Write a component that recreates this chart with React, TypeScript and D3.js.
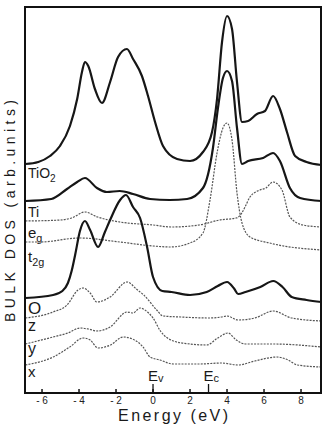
import React, { useEffect, useRef } from "react";
import { select, scaleLinear, line, curveMonotoneX } from "d3";

// axis
const energyTicks = [-6, -4, -2, 0, 2, 4, 6, 8];
const bandEdges = [
  { name: "E", sub: "v", energy: 0 },
  { name: "E", sub: "c", energy: 3.0 },
];

// total DOS
const tio2Energy = [-6.9, -6.2, -5.57, -5.03, -4.49, -4.1, -3.84, -3.68, -3.5, -3.14, -2.76, -2.32, -1.89, -1.41, -1.08, -0.6, -0.27, 0.11, 0.54, 1.3, 2.0, 2.7, 3.19, 3.46, 3.73, 4.0, 4.27, 4.54, 4.81, 5.14, 5.62, 6.05, 6.49, 6.86, 7.24, 7.68, 8.3, 9.1];
const tio2Dos = [0, 1, 4, 9, 19, 32.5, 46, 51, 49, 37.5, 30.5, 41, 53.5, 57.5, 52.5, 44, 34, 21, 9, 2.5, 1.5, 6, 16, 32.5, 61, 74, 67.5, 41, 21, 21.5, 25, 26.5, 34, 27.5, 16, 4, 1, -0.5];

// Ti and its eg / t2g parts
const tiEnergy = [-6.9, -5.5, -4.65, -4.1, -3.68, -3.03, -2.5, -1.8, -1.08, -0.16, 0.9, 1.84, 2.7, 3.24, 3.51, 3.78, 4.0, 4.27, 4.54, 4.81, 5.14, 5.95, 6.49, 6.86, 7.4, 7.95, 9.1];
const tiDos = [0, 1, 6, 9.5, 11.5, 6.5, 4.5, 5, 3.5, 1, 0.5, 1, 6.5, 26.5, 46.5, 61.5, 65, 60, 36.5, 18.5, 20, 21.5, 24, 20, 6.5, 1.5, 0];

const egEnergy = [-6.9, -5.0, -4.4, -3.68, -3.0, -1.8, 0, 1.0, 2.5, 3.6, 4.5, 4.8, 5.0, 5.24, 5.78, 6.1, 6.49, 6.97, 7.4, 8.1, 9.1];
const egDos = [1, 1.5, 2.5, 5.5, 3, 0.5, -1, -2, -1, 1.5, 2.5, 5, 8.5, 13, 16.5, 17.5, 20.5, 16.5, 3, -1, -2];

const t2gEnergy = [-6.9, -6.1, -3.95, -1.8, 0, 0.92, 2.0, 2.7, 3.08, 3.46, 3.78, 4.0, 4.27, 4.54, 4.81, 5.24, 6.3, 9.1];
const t2gDos = [1.5, 1.5, 3.5, 1.5, -0.5, -1, 1, 6, 22.5, 46, 58.5, 61, 52.5, 26, 11, 4, 1, -2.5];

// O and its x / y / z parts
const oEnergy = [-6.9, -5.4, -4.9, -4.6, -4.4, -4.2, -3.95, -3.68, -3.4, -2.97, -2.6, -2.32, -1.78, -1.46, -1.08, -0.7, -0.32, 0, 0.5, 1.0, 2.0, 2.9, 3.5, 4.0, 4.4, 4.6, 5.0, 5.8, 6.5, 7.0, 7.5, 8.3, 9.1];
const oDos = [-0.5, 1, 3, 7, 13, 21.5, 33, 38, 33.5, 25, 32.5, 38.5, 48.5, 51, 45, 39.5, 25, 10, 3, 2.5, 1, 2.5, 5.5, 7.5, 4, 1.5, 2.5, 5, 8, 5, 0, -1.5, -2.5];

const zEnergy = [-6.9, -5.4, -4.65, -4.05, -3.78, -3.4, -3.03, -2.32, -1.4, -0.9, -0.5, 0.2, 0.54, 1.5, 3.0, 3.7, 4.0, 4.6, 5.5, 6.5, 7.5, 9.1];
const zDos = [0.5, 3.5, 7, 14.5, 15.5, 13, 8.5, 11, 18.5, 15, 12, 4.5, 1.5, 1, 0.5, 1, 1.5, -0.5, 0.5, 4, 0.5, -1];

const yEnergy = [-6.9, -5.4, -4.6, -3.95, -3.5, -3.03, -2.32, -1.4, -1.08, -0.7, -0.3, 0, 0.4, 1.1, 2.0, 2.9, 3.5, 4.05, 4.5, 5.0, 6.5, 9.1];
const yDos = [0.5, 4, 6, 8.5, 8, 7, 9, 16.5, 16, 18.5, 16.5, 13.5, 7, 2, 0.5, 0, 3.5, 6, 2.5, 0.5, 0.5, -1];

const xEnergy = [-6.9, -5.4, -4.5, -3.78, -3.4, -2.97, -2.3, -1.62, -1.0, -0.54, -0.16, 0.38, 1.1, 2.5, 3.7, 4.6, 5.5, 6.7, 7.3, 7.8, 9.1];
const xDos = [0, 4, 9, 13.5, 12.5, 8.5, 10, 14, 12.5, 9, 4, 2.5, 0.5, 0.5, 1, 0, 2, 4, 2.5, 0, -1];

const series = [
  { label: "TiO", sub: "2", offset: 114.5, energy: tio2Energy, dos: tio2Dos, thick: true, dy: 14, size: 14 },
  { label: "Ti", sub: "", offset: 96, energy: tiEnergy, dos: tiDos, thick: true, dy: 16, size: 14 },
  { label: "e", sub: "g", offset: 85, energy: egEnergy, dos: egDos, thick: false, dy: 15, size: 15 },
  { label: "t", sub: "2g", offset: 74, energy: t2gEnergy, dos: t2gDos, thick: false, dy: 17, size: 15 },
  { label: "O", sub: "", offset: 48, energy: oEnergy, dos: oDos, thick: true, dy: 17, size: 17 },
  { label: "z", sub: "", offset: 37, energy: zEnergy, dos: zDos, thick: false, dy: 12, size: 16 },
  { label: "y", sub: "", offset: 24, energy: yEnergy, dos: yDos, thick: false, dy: 9, size: 16 },
  { label: "x", sub: "", offset: 14, energy: xEnergy, dos: xDos, thick: false, dy: 12, size: 15 },
];

const W = 327;
const H = 428;
const left = 25, right = 321, top = 7, bottom = 393;
const FONT = "'Liberation Sans', Arial, sans-serif";

function DosChart() {
  const svgRef = useRef(null);

  useEffect(() => {
    const svg = select(svgRef.current);
    svg.selectAll("*").remove();

    const xScale = scaleLinear().domain([-6.92, 9.08]).range([left, right]);
    const yScale = scaleLinear().domain([0, 193]).range([bottom, top]);

    // curves
    series.forEach((s) => {
      const pts = s.energy.map((e, i) => [e, s.offset + s.dos[i]]);
      const gen = line()
        .x((d) => xScale(d[0]))
        .y((d) => yScale(d[1]))
        .curve(curveMonotoneX);
      svg
        .append("path")
        .attr("d", gen(pts))
        .attr("fill", "none")
        .attr("stroke", s.thick ? "#161616" : "#555")
        .attr("stroke-width", s.thick ? 2.2 : 1.2)
        .attr("stroke-dasharray", s.thick ? null : "2 1.2")
        .attr("stroke-linejoin", "round");

      const t = svg
        .append("text")
        .attr("x", left + 3)
        .attr("y", yScale(s.offset) + s.dy)
        .attr("font-family", FONT)
        .attr("font-size", s.size)
        .attr("fill", "#1a1a1a")
        .text(s.label);
      if (s.sub) {
        t.append("tspan")
          .attr("dy", 4)
          .attr("font-size", s.size * 0.72)
          .text(s.sub);
      }
    });

    // frame
    svg
      .append("rect")
      .attr("x", left)
      .attr("y", top)
      .attr("width", right - left)
      .attr("height", bottom - top)
      .attr("fill", "none")
      .attr("stroke", "#111")
      .attr("stroke-width", 2);

    // x ticks (inward)
    const ticks = svg.append("g");
    ticks
      .selectAll("line")
      .data(energyTicks)
      .join("line")
      .attr("x1", (d) => xScale(d))
      .attr("x2", (d) => xScale(d))
      .attr("y1", bottom)
      .attr("y2", bottom - 4)
      .attr("stroke", "#111")
      .attr("stroke-width", 1.5);
    ticks
      .selectAll("text")
      .data(energyTicks)
      .join("text")
      .attr("x", (d) => xScale(d))
      .attr("y", bottom + 11)
      .attr("text-anchor", "middle")
      .attr("font-family", FONT)
      .attr("font-size", 10)
      .attr("fill", "#222")
      .text((d) => (d < 0 ? "- " + Math.abs(d) : String(d)));

    // band edges
    bandEdges.forEach((b) => {
      svg
        .append("line")
        .attr("x1", xScale(b.energy))
        .attr("x2", xScale(b.energy))
        .attr("y1", bottom)
        .attr("y2", bottom - 9)
        .attr("stroke", "#111")
        .attr("stroke-width", 1.3);
      const t = svg
        .append("text")
        .attr("x", xScale(b.energy) - 5)
        .attr("y", bottom - 12)
        .attr("font-family", FONT)
        .attr("font-size", 15)
        .attr("fill", "#1a1a1a")
        .text(b.name);
      t.append("tspan").attr("dy", 1).attr("font-size", 11).text(b.sub);
    });

    // axis titles
    svg
      .append("text")
      .attr("x", 173)
      .attr("y", 421)
      .attr("text-anchor", "middle")
      .attr("font-family", FONT)
      .attr("font-size", 16)
      .attr("textLength", 110)
      .attr("lengthAdjust", "spacing")
      .attr("fill", "#1a1a1a")
      .text("Energy (eV)");

    svg
      .append("text")
      .attr("transform", "translate(15,211) rotate(-90)")
      .attr("text-anchor", "middle")
      .attr("font-family", FONT)
      .attr("font-size", 14)
      .attr("textLength", 222)
      .attr("lengthAdjust", "spacing")
      .attr("fill", "#1a1a1a")
      .text("BULK DOS (arb.units)");
  }, []);

  return (
    <svg
      ref={svgRef}
      width={W}
      height={H}
      style={{ position: "absolute", left: 0, top: 0, background: "#fff" }}
    />
  );
}

export default function App() {
  return <DosChart />;
}
